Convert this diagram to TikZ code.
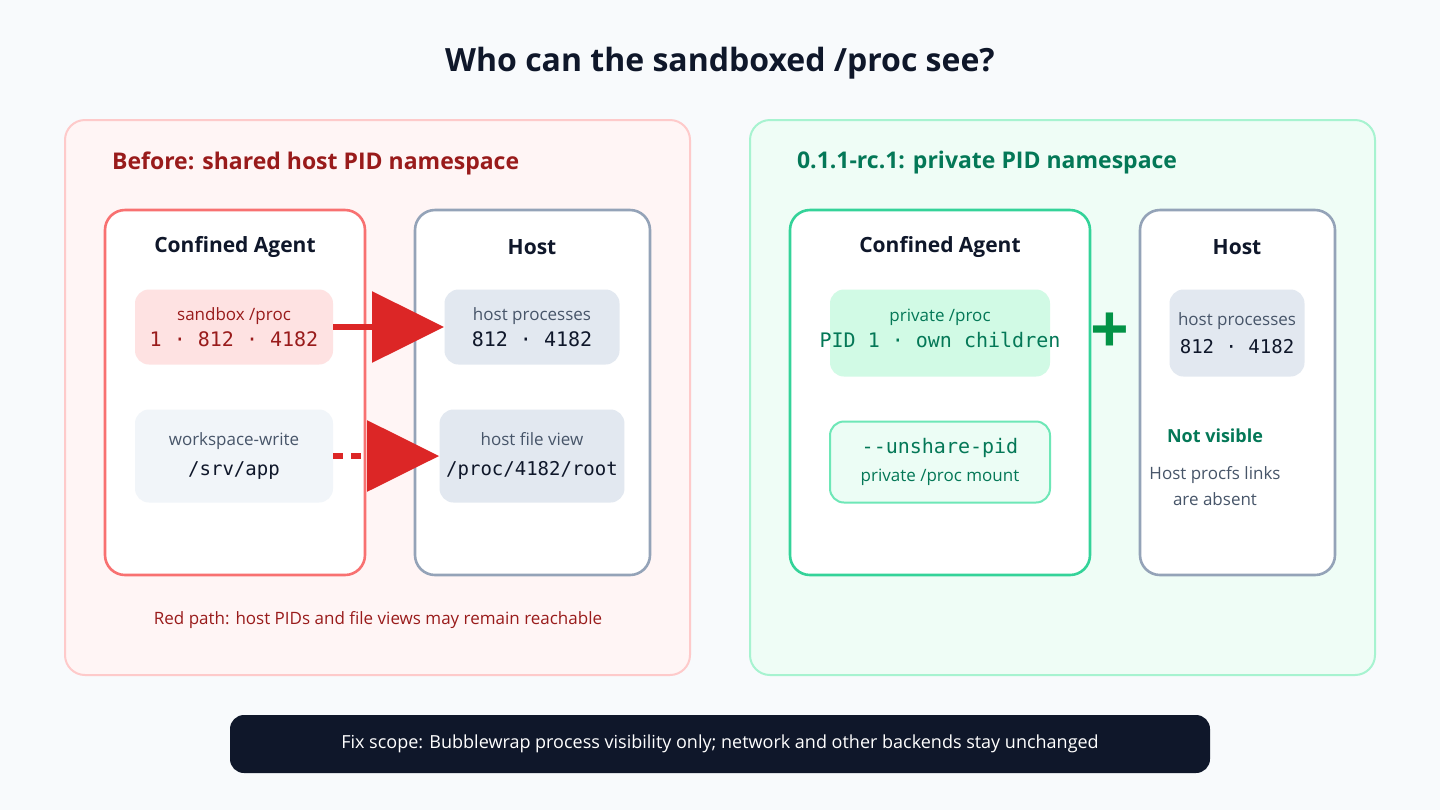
\documentclass[tikz,border=0pt]{standalone}
\usepackage{fontspec}
\setmainfont{Open Sans}
\setmonofont{DejaVu Sans Mono}
\usetikzlibrary{arrows.meta}
\definecolor{bgc}{HTML}{F8FAFC}
\definecolor{ink}{HTML}{0F172A}
\definecolor{redtx}{HTML}{991B1B}
\definecolor{redln}{HTML}{F87171}
\definecolor{redbd}{HTML}{FECACA}
\definecolor{redpn}{HTML}{FFF5F5}
\definecolor{redfl}{HTML}{FEE2E2}
\definecolor{arr}{HTML}{DC2626}
\definecolor{grnpn}{HTML}{EFFDF6}
\definecolor{grnbd}{HTML}{A7F3D0}
\definecolor{grnln}{HTML}{34D399}
\definecolor{grnfl}{HTML}{D1FAE5}
\definecolor{grnlt}{HTML}{ECFDF5}
\definecolor{grnmd}{HTML}{6EE7B7}
\definecolor{grntx}{HTML}{047857}
\definecolor{slate}{HTML}{94A3B8}
\definecolor{slfl}{HTML}{E2E8F0}
\definecolor{sllt}{HTML}{F1F5F9}
\definecolor{gtx}{HTML}{475569}
\tikzset{
  panel/.style={rounded corners=10pt, line width=1pt},
  column/.style={rounded corners=10pt, line width=1.3pt, fill=white},
  chip/.style={rounded corners=7pt, draw=none, minimum width=99pt, minimum height=37.5pt, align=center, font=\fontsize{8.5}{12}\selectfont},
  hdr/.style={font=\fontsize{10.5}{12}\selectfont\bfseries, text=ink},
  path/.style={draw=arr, line width=3pt, -{Triangle[length=36pt,width=35pt]}},
  note/.style={font=\fontsize{8.5}{12}\selectfont, text=gtx}
}
\begin{document}
\begin{tikzpicture}[x=0.5pt, y=-0.5pt]
    \fill [bgc] (0,0) rectangle (1440,810);
    \node [font=\fontsize{16}{18}\selectfont\bfseries, text=ink] (title) at (720,63) {Who can the sandboxed /proc see?};

    % left panel
    \draw [panel, draw=redbd, fill=redpn] (65,120) rectangle (690,675);
    \node [anchor=west, font=\fontsize{11.5}{13}\selectfont\bfseries, text=redtx] (lt) at (105,163) {Before: shared host PID namespace};
    \draw [column, draw=redln] (105,210) rectangle (365,575);
    \draw [column, draw=slate] (415,210) rectangle (650,575);
    \node [hdr] (lca) at (235,247) {Confined Agent};
    \node [hdr] (lho) at (532,247) {Host};
    \node [chip, fill=redfl, text=redtx] (sbx) at (234,327) {sandbox /proc\\[1pt]{\ttfamily\fontsize{10}{12}\selectfont 1 · 812 · 4182}};
    \node [chip, fill=sllt, text=gtx, minimum height=46.5pt] (wsw) at (234,456) {workspace-write\\[3pt]{\ttfamily\fontsize{9.5}{12}\selectfont\color{ink} /srv/app}};
    \node [chip, fill=slfl, text=gtx, minimum width=87.5pt] (hpr) at (532,327) {host processes\\[1pt]{\ttfamily\fontsize{10}{12}\selectfont\color{ink} 812 · 4182}};
    \node [chip, fill=slfl, text=gtx, minimum width=87.5pt, minimum height=46.5pt] (hfv) at (532,456) {host file view\\[3pt]{\ttfamily\fontsize{9.5}{12}\selectfont\color{ink} /proc/4182/root}};
    \draw [path] (sbx) -- (hpr);
    \draw [path, dash pattern=on 5pt off 4pt] (wsw.east |- hfv.west) -- (hfv.west);
    \node [font=\fontsize{8.5}{12}\selectfont, text=redtx] (rp) at (378,620) {Red path: host PIDs and file views may remain reachable};

    % right panel
    \draw [panel, draw=grnbd, fill=grnpn] (750,120) rectangle (1375,675);
    \node [anchor=west, font=\fontsize{11.5}{13}\selectfont\bfseries, text=grntx] (rt) at (790,163) {0.1.1-rc.1: private PID namespace};
    \draw [column, draw=grnln] (790,210) rectangle (1090,575);
    \draw [column, draw=slate] (1140,210) rectangle (1335,575);
    \node [hdr] (rca) at (940,247) {Confined Agent};
    \node [hdr] (rho) at (1237,247) {Host};
    \node [chip, fill=grnfl, minimum width=110pt, minimum height=43.5pt] (pvp) at (940,333) {};
    \node [align=center, text=grntx, font=\fontsize{8.5}{12}\selectfont] (pvt) at (940,328) {private /proc\\[1pt]{\ttfamily\fontsize{10}{12}\selectfont PID 1 · own children}};
    \node [chip, fill=grnlt, draw=grnmd, line width=1pt, minimum width=110pt, minimum height=40.5pt, text=grntx] (ush) at (940,462) {{\ttfamily\fontsize{10}{12}\selectfont --unshare-pid}\\[2pt]private /proc mount};
    \node [font=\fontsize{34}{34}\selectfont\bfseries, text=grntx!80!green] (plus) at (1110,333) {+};
    \node [chip, fill=slfl, text=gtx, minimum width=67.5pt, minimum height=43.5pt] (rhp) at (1237,333) {host processes\\[2pt]{\ttfamily\fontsize{9.5}{12}\selectfont\color{ink} 812 · 4182}};
    \node [font=\fontsize{9}{12}\selectfont\bfseries, text=grntx] (nv) at (1215,436) {Not visible};
    \node [note, align=center] (hpl) at (1215,486) {Host procfs links\\[1pt]are absent};

    % scope bar
    \node [fill=ink, rounded corners=7pt, minimum width=490pt, minimum height=29pt, text=white, font=\fontsize{9}{12}\selectfont] (fix) at (720,744) {Fix scope: Bubblewrap process visibility only; network and other backends stay unchanged};
\end{tikzpicture}
\end{document}
